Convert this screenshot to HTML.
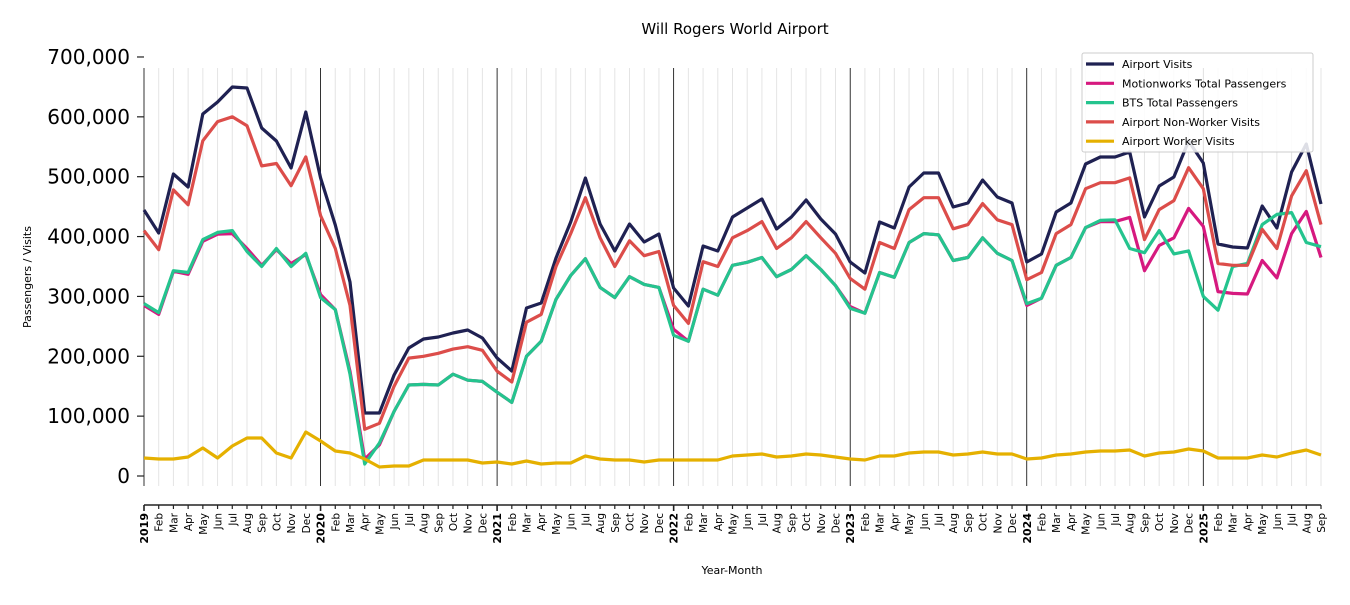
<!DOCTYPE html>
<html><head><meta charset="utf-8"><style>
body{margin:0;background:#fff;font-family:"Liberation Sans","DejaVu Sans",sans-serif;}
svg text{font-family:"DejaVu Sans","Liberation Sans",sans-serif;}
</style></head><body>
<svg id="s" width="1350" height="600" xmlns="http://www.w3.org/2000/svg">
<text x="735" y="34" font-size="15" text-anchor="middle" fill="#000">Will Rogers World Airport</text>
<text x="732" y="574" font-size="11" text-anchor="middle">Year-Month</text>
<text transform="translate(31,277) rotate(-90)" font-size="11" text-anchor="middle">Passengers / Visits</text>
<g id="g"></g>
</svg>
<script>
const g=document.getElementById('g');const NS='http://www.w3.org/2000/svg';
function el(t,a,txt){const e=document.createElementNS(NS,t);for(const k in a)e.setAttribute(k,a[k]);if(txt!==undefined)e.textContent=txt;g.appendChild(e);return e;}
const X=i=>144+i*14.7125;
const P=v=>476-v*0.5986;
const mn=['','Feb','Mar','Apr','May','Jun','Jul','Aug','Sep','Oct','Nov','Dec'];
for(let i=0;i<81;i++){const yr=i%12==0;
el('line',{x1:X(i),x2:X(i),y1:68,y2:486,stroke:yr?'#000':'#e4e4e4','stroke-width':yr?0.8:1});
el('line',{x1:X(i),x2:X(i),y1:505,y2:yr?511:509,stroke:'#222','stroke-width':yr?1.6:1.2});
const lab=yr?String(2019+i/12):mn[i%12];
el('text',{transform:`translate(${X(i)+4},513) rotate(-90)`,'font-size':yr?11:10.5,'font-weight':yr?'bold':'normal','text-anchor':'end'},lab);}
el('line',{x1:144,x2:1321,y1:505,y2:505,stroke:'#222','stroke-width':1.6});
for(let k=0;k<=7;k++){const y=476-k*59.86;
el('line',{x1:137,x2:144,y1:y,y2:y,stroke:'#222','stroke-width':1.2});
el('text',{x:130,y:y+7,'font-size':20,'text-anchor':'end'},(k*100000).toLocaleString('en-US'));}
const nav=[210,233,174,187,114,102,87,88,128,141,168,112,178,225,282,413,413,375,348,339,337,333,330,338,358,371,308,303,258,222,178,224,251,224,242,234,288,306,246,251,217,208,199,229,217,200,219,234,262,273,222,228,187,173,173,207,203,180,197,203,262,254,212,203,164,157,157,152,217,186,177,141,163,244,247,248,206,228,172,144,204];
const redK=[410,378,478,453,560,592,600,585,518,522,485,533, 435,380,285,78,88,150,197,200,205,212,216,210, 175,157,257,270,350,405,465,398,350,393,368,375, 285,255,358,350,398,410,425,380,398,425,398,372, 330,312,390,380,445,465,465,413,420,455,428,420, 328,340,405,420,480,490,490,498,395,445,460,515, 480,355,352,352,412,380,468,510,420];
const grnK=[288,273,343,340,395,407,410,375,350,380,350,372, 298,278,170,20,55,108,152,153,152,170,160,158, 140,123,200,225,295,335,363,315,298,333,320,315, 235,225,312,302,352,357,365,333,345,368,345,318, 280,272,340,332,390,405,403,360,365,398,372,360, 288,297,352,365,415,427,428,380,373,410,371,376, 300,277,350,355,420,437,440,390,383];
const pinkK=grnK.slice();
[285,270,342,337,392,404,405,380,352,378,355,370,303,278,175,28,52].forEach((v,i)=>pinkK[i]=v);
pinkK[36]=245;pinkK[48]=283;pinkK[60]=285;
[425,425,432,343,385,398,447,417,308,305,304,360,331,405,442,365].forEach((v,i)=>pinkK[65+i]=v);
const yel=[458,459,459,457,448,458,446,438,438,453,458,432,441,451,453,459,467,466,466,460,460,460,460,463,462,464,461,464,463,463,456,459,460,460,462,460,460,460,460,460,456,455,454,457,456,454,455,457,459,460,456,456,453,452,452,455,454,452,454,454,459,458,455,454,452,451,451,450,456,453,452,449,451,458,458,458,455,457,453,450,455];
const pts=a=>a.map((y,i)=>X(i).toFixed(1)+','+y.toFixed(1)).join(' ');
[[nav,'#1f2152'],[pinkK.map(P),'#d6197f'],[grnK.map(P),'#24c48e'],[redK.map(P),'#dc4d4a'],[yel,'#e5b000']].forEach(([a,c])=>el('polyline',{points:pts(a),fill:'none',stroke:c,'stroke-width':3.2,'stroke-linejoin':'round'}));
el('rect',{x:1082,y:53,width:231,height:99,fill:'#fff','fill-opacity':0.85,stroke:'#ccc',rx:2});
[['Airport Visits','#1f2152'],['Motionworks Total Passengers','#d6197f'],['BTS Total Passengers','#24c48e'],['Airport Non-Worker Visits','#dc4d4a'],['Airport Worker Visits','#e5b000']].forEach(([t,c],i)=>{const y=64+i*19.3;
el('line',{x1:1086,x2:1114,y1:y,y2:y,stroke:c,'stroke-width':3.2});
el('text',{x:1122,y:y+4,'font-size':11},t);});
</script>
</body></html>
